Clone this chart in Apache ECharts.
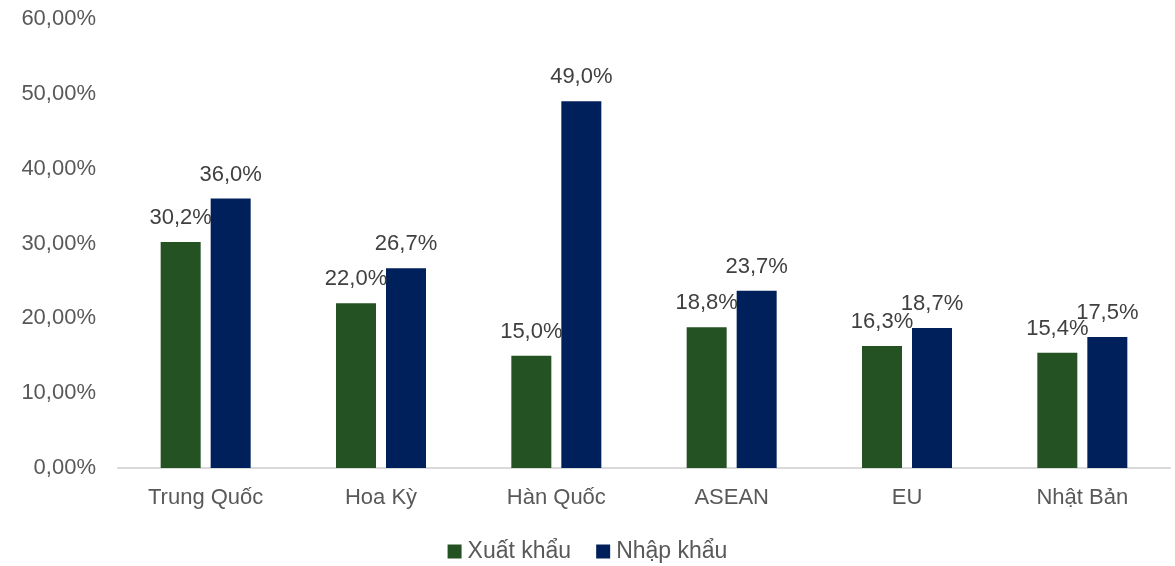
<!DOCTYPE html>
<html>
<head>
<meta charset="utf-8">
<script src="https://cdn.jsdelivr.net/npm/echarts@6/dist/echarts.min.js"></script>
<style>
html,body{margin:0;padding:0;background:#fff;}
#chart{width:1175px;height:566px;}
</style>
</head>
<body>
<div id="chart"></div>
<script>
const categories = ["Trung Quốc", "Hoa Kỳ", "Hàn Quốc", "ASEAN", "EU", "Nhật Bản"];
const xuatKhau = [30.2, 22.0, 15.0, 18.8, 16.3, 15.4];
const nhapKhau = [36.0, 26.7, 49.0, 23.7, 18.7, 17.5];

const chart = echarts.init(document.getElementById("chart"));
const fmt = v => v.toFixed(1).replace(".", ",") + "%";
const labelStyle = {
    show: true,
    position: "top",
    distance: 13,
    color: "#404040",
    fontSize: 22,
    fontFamily: "Liberation Sans",
    formatter: p => fmt(p.value)
};

chart.setOption({
    animation: false,
    textStyle: { fontFamily: "Liberation Sans" },
    grid: { left: 118, right: 5, top: 19, bottom: 98 },
    xAxis: {
        type: "category",
        data: categories,
        axisLine: { lineStyle: { color: "#d9d9d9", width: 2 } },
        axisTick: { show: false },
        axisLabel: { color: "#595959", fontSize: 22, margin: 19 }
    },
    yAxis: {
        type: "value",
        min: 0,
        max: 60,
        interval: 10,
        splitLine: { show: false },
        axisLabel: {
            color: "#595959",
            fontSize: 22,
            margin: 22,
            formatter: v => v.toFixed(2).replace(".", ",") + "%"
        }
    },
    legend: {
        bottom: -2,
        left: "center",
        itemWidth: 14,
        itemHeight: 14,
        itemGap: 25,
        icon: "rect",
        textStyle: { color: "#595959", fontSize: 23, padding: [0, 0, 0, 1] },
        data: ["Xuất khẩu", "Nhập khẩu"]
    },
    series: [
        {
            name: "Xuất khẩu",
            type: "bar",
            data: xuatKhau,
            barWidth: 40,
            barGap: "25%",
            itemStyle: { color: "#255222" },
            label: labelStyle
        },
        {
            name: "Nhập khẩu",
            type: "bar",
            data: nhapKhau,
            barWidth: 40,
            itemStyle: { color: "#00205b" },
            label: labelStyle
        }
    ]
});
</script>
</body>
</html>
